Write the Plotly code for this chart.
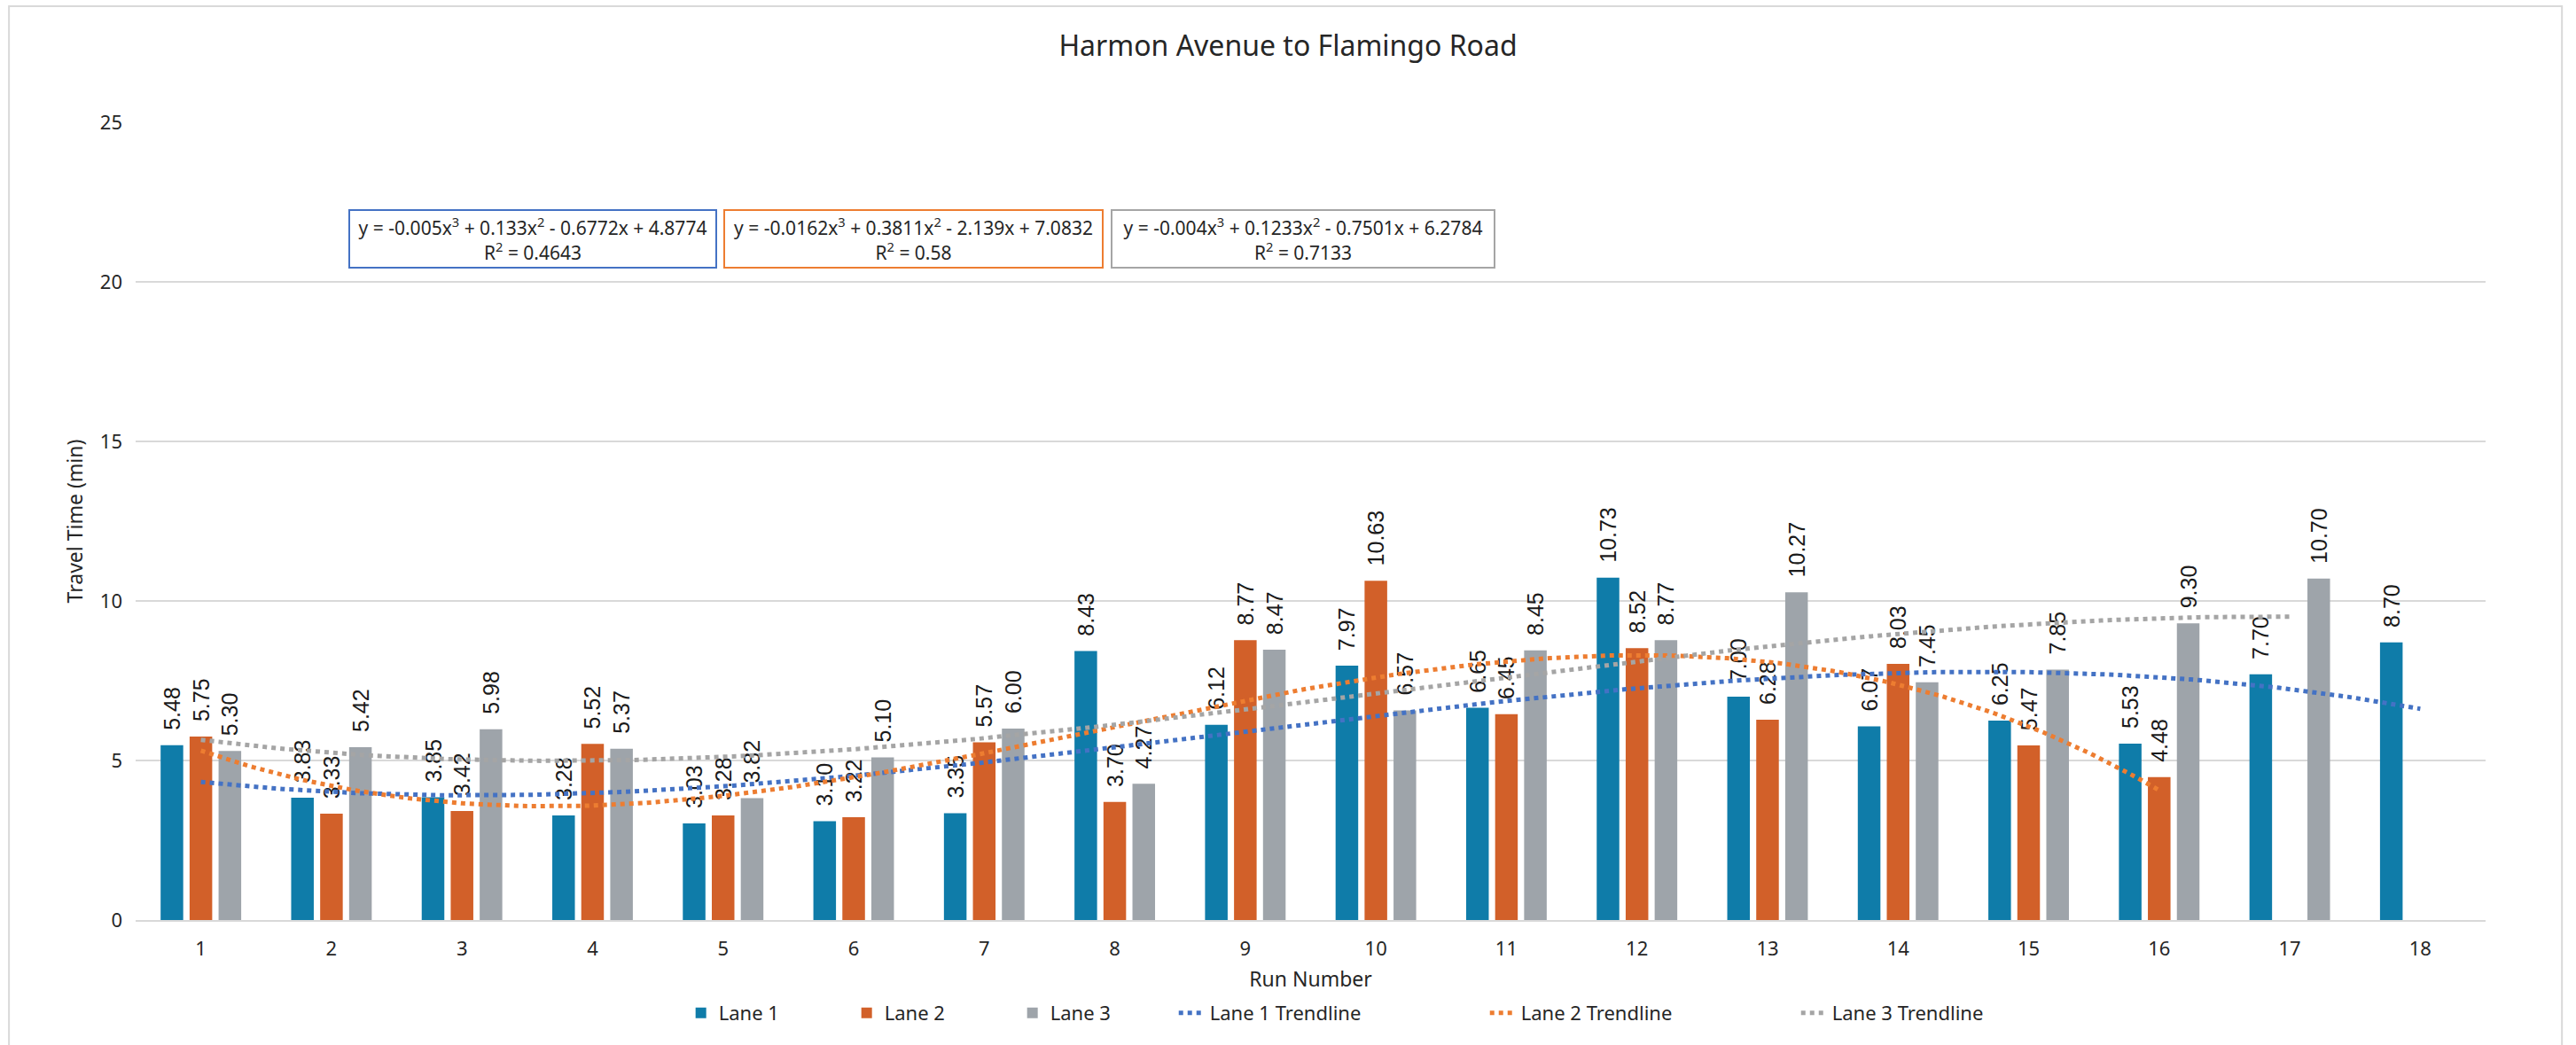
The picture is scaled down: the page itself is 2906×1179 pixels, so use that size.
import numpy as np
import plotly.graph_objects as go

runs = list(range(1, 19))
lane1 = [5.48, 3.83, 3.85, 3.28, 3.03, 3.10, 3.35, 8.43, 6.12, 7.97, 6.65, 10.73, 7.00, 6.07, 6.25, 5.53, 7.70, 8.70]
lane2 = [5.75, 3.33, 3.42, 5.52, 3.28, 3.22, 5.57, 3.70, 8.77, 10.63, 6.45, 8.52, 6.28, 8.03, 5.47, 4.48, None, None]
lane3 = [5.30, 5.42, 5.98, 5.37, 3.82, 5.10, 6.00, 4.27, 8.47, 6.57, 8.45, 8.77, 10.27, 7.45, 7.85, 9.30, 10.70, None]

# cubic trendline coefficients shown on the chart (x^3, x^2, x, 1)
trend1 = [-0.005, 0.133, -0.6772, 4.8774]
trend2 = [-0.0162, 0.3811, -2.139, 7.0832]
trend3 = [-0.004, 0.1233, -0.7501, 6.2784]
r2 = ["0.4643", "0.58", "0.7133"]

bar_colors = ['#0F7CA9', '#D26029', '#9EA4AA']
trend_colors = ['#4472C4', '#ED7D31', '#A5A5A5']
names = ['Lane 1', 'Lane 2', 'Lane 3']

FONT = 'Noto Sans, Open Sans, sans-serif'
LBL = 'Liberation Sans Narrow, Arial Narrow, Liberation Sans, sans-serif'

fig = go.Figure()
for name, vals, col in zip(names, [lane1, lane2, lane3], bar_colors):
    fig.add_trace(go.Bar(x=runs, y=vals, name=name, marker_color=col,
                         marker_line_width=0,
                         texttemplate='\u00a0\u00a0%{y:.2f}', textposition='outside',
                         textangle=-90, constraintext='none', cliponaxis=False,
                         textfont=dict(family=LBL, size=25, color='#1a1a1a'),
                         legend='legend'))

for name, vals, coefs, col in zip(names, [lane1, lane2, lane3],
                                  [trend1, trend2, trend3], trend_colors):
    last = max(i + 1 for i, v in enumerate(vals) if v is not None)
    xs = np.linspace(1, last, 300)
    fig.add_trace(go.Scatter(x=xs, y=np.polyval(coefs, xs), mode='lines',
                             name=name + ' Trendline',
                             line=dict(color=col, width=5, dash='5px,5px'),
                             legend='legend2'))

# equation boxes
def fmt(c):
    s = 'y = %sx<sup>3</sup> ' % c[0]
    s += ('+ %s' % c[1]) if c[1] >= 0 else ('- %s' % -c[1])
    s += 'x<sup>2</sup> '
    s += ('+ %sx ' % c[2]) if c[2] >= 0 else ('- %sx ' % -c[2])
    s += ('+ %s' % c[3]) if c[3] >= 0 else ('- %s' % -c[3])
    return s

box_x = [3.54, 6.455, 9.44]
box_w = [406, 419, 424]
for coefs, rr, col, bx, bw in zip([trend1, trend2, trend3], r2, trend_colors, box_x, box_w):
    fig.add_annotation(x=bx, y=21.35, xref='x', yref='y', showarrow=False,
                       text=fmt(coefs) + '<br>R<sup>2</sup> = ' + rr,
                       font=dict(family=FONT, size=21, color='#262626'),
                       bordercolor=col, borderwidth=2, borderpad=3,
                       bgcolor='white', width=bw, height=57, align='center')

# chart area border
fig.add_shape(type='rect', xref='paper', yref='paper',
              x0=-0.0539, x1=1.0325, y0=-0.17, y1=1.1456,
              line=dict(color='#D9D9D9', width=2))

legend_font = dict(family=FONT, size=22, color='#262626')
fig.update_layout(
    width=2906, height=1179,
    margin=dict(l=153, r=102, t=138, b=141),
    paper_bgcolor='white', plot_bgcolor='white',
    title=dict(text='Harmon Avenue to Flamingo Road', x=0.5, xanchor='center',
               y=1 - 52 / 1179, yanchor='middle',
               font=dict(family=FONT, size=32, color='#262626')),
    barmode='group', bargap=0.334, bargroupgap=0.22,
    font=dict(family=FONT, color='#262626'),
    legend=dict(orientation='h', x=0.233, xanchor='left', y=-0.1167, yanchor='middle',
                font=legend_font, traceorder='normal', entrywidth=142,
                entrywidthmode='pixels'),
    legend2=dict(orientation='h', x=0.442, xanchor='left', y=-0.1167, yanchor='middle',
                 font=legend_font, traceorder='normal', entrywidth=306,
                 entrywidthmode='pixels'),
    showlegend=True,
)
fig.update_xaxes(range=[0.5, 18.5], tickvals=runs, ticktext=[str(r) for r in runs],
                 showgrid=False, showline=True, linecolor='#D9D9D9', linewidth=2,
                 ticks='', ticklabelstandoff=12,
                 tickfont=dict(family=FONT, size=22, color='#262626'),
                 title=dict(text='Run Number', font=dict(family=FONT, size=23, color='#262626'),
                            standoff=13),
                 automargin=False)
fig.update_yaxes(range=[0, 25], dtick=5, showgrid=True, gridcolor='#D9D9D9', gridwidth=2,
                 zeroline=False, showline=False, ticks='', ticklabelstandoff=14,
                 tickfont=dict(family=FONT, size=22, color='#262626'),
                 title=dict(text='Travel Time (min)', font=dict(family=FONT, size=23, color='#262626'),
                            standoff=12),
                 automargin=False)

fig.write_html("out.html", config={'displayModeBar': False},
               post_script="document.body.style.margin='0';")
